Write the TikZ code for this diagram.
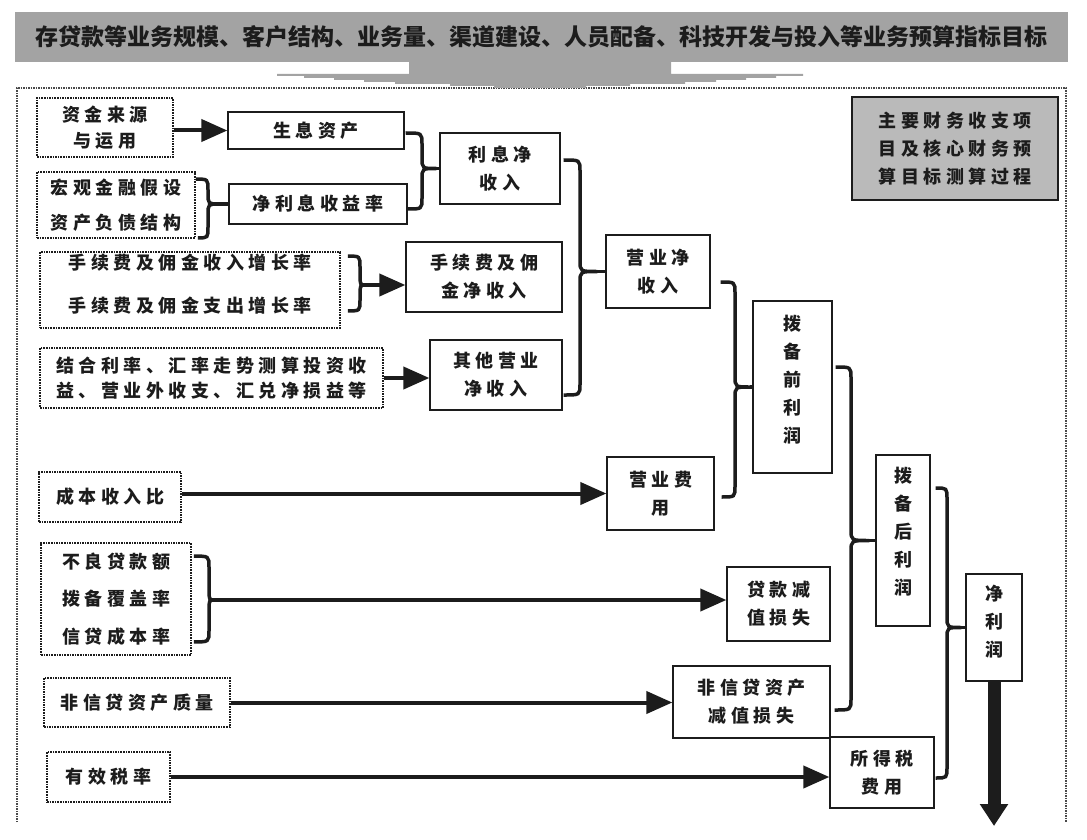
\documentclass[tikz,border=0pt]{standalone}
\usepackage{fontspec}
\newfontfamily\cjk[LetterSpace=25]{Noto Sans CJK SC}
\newfontfamily\cjkb{Noto Sans CJK SC}
\usetikzlibrary{arrows.meta,calc}
\definecolor{bannergray}{RGB}{163,163,163}
\definecolor{legendgray}{RGB}{186,186,186}
\definecolor{ink}{RGB}{28,28,28}
\newcommand\mybrace[4]{%
  \draw[bl] let \p1=(#1), \p2=(#2), \p3=(#4) in
    (\p1) .. controls (#3,\y1) .. (#3,\y1-11pt)
    -- (#3,\y3+11pt) .. controls (#3,\y3) .. (\p3)
    .. controls (#3,\y3) .. (#3,\y3-11pt)
    -- (#3,\y2+11pt) .. controls (#3,\y2) .. (\p2);
}
\begin{document}
\begin{tikzpicture}[x=1pt,y=-1pt,
  sbox/.style={draw=ink, line width=1.3pt, fill=white, inner sep=0pt, align=center, text=ink,
    font=\cjk\bfseries\fontsize{18}{28}\selectfont},
  dbox/.style={sbox, dash pattern=on 1.6pt off 1pt, line width=1.8pt},
  arr/.style={line width=4pt, draw=ink, -{Triangle[length=26pt,width=22pt]}},
  bl/.style={line width=3.5pt, draw=ink}]
\useasboundingbox (0,0) rectangle (1087,840);

% outer dotted frame (open at the bottom)
\draw[ink!80, line width=1.5pt, dash pattern=on 1.5pt off 1pt] (17,822) -- (17,88) -- (1066,88) -- (1066,822);

% banner
\node[fill=bannergray, minimum width=1053pt, minimum height=50pt, inner sep=0pt, text=ink,
  font=\cjkb\bfseries\fontsize{23}{26}\selectfont] (banner) at (541.5,37)
  {存贷款等业务规模、客户结构、业务量、渠道建设、人员配备、科技开发与投入等业务预算指标目标};
\fill[bannergray] (409,61) -- (671,61) -- (671,74) -- (803,74) -- (803,76) -- (776,76) -- (776,78)
  -- (746,78) -- (746,80) -- (716,80) -- (716,82) -- (685,82) -- (685,84) -- (630,84) -- (630,86)
  -- (586,86) -- (586,88) -- (494,88) -- (494,86) -- (450,86) -- (450,84) -- (395,84) -- (395,82)
  -- (364,82) -- (364,80) -- (334,80) -- (334,78) -- (304,78) -- (304,76) -- (277,76) -- (277,74)
  -- (409,74) -- cycle;

% legend
\node[sbox, fill=legendgray, line width=1.6pt, minimum width=206pt, minimum height=103pt] (legend) at (955,148.5)
  {主要财务收支项\\目及核心财务预\\算目标测算过程};

% left inputs
\node[dbox, minimum width=136pt, minimum height=59pt] (zjly) at (105,127.5) {资金来源\\[-2pt]与运用};
\node[dbox, minimum width=158pt, minimum height=66pt] (hgjr) at (116,205) {宏观金融假设\\[7pt]资产负债结构};
\node[dbox, minimum width=300pt, minimum height=76pt, text depth=14pt] (sxf) at (190,290) {手续费及佣金收入增长率\\[15pt]手续费及佣金支出增长率};
\node[dbox, minimum width=343pt, minimum height=60pt] (jhll) at (211.5,378) {结合利率、汇率走势测算投资收\\[-3pt]益、营业外收支、汇兑净损益等};
\node[dbox, minimum width=142pt, minimum height=50pt] (cbsrb) at (110,497) {成本收入比};
\node[dbox, minimum width=150pt, minimum height=112pt] (blsk) at (116,599) {不良贷款额\\[9.5pt]拨备覆盖率\\[9.5pt]信贷成本率};
\node[dbox, minimum width=186pt, minimum height=49pt] (fxd) at (137,702.5) {非信贷资产质量};
\node[dbox, minimum width=123pt, minimum height=50pt] (yxsl) at (108.5,777) {有效税率};

% solid boxes
\node[sbox, minimum width=176pt, minimum height=37pt] (sxzc) at (316,130.5) {生息资产};
\node[sbox, minimum width=178pt, minimum height=40pt] (jlxsyl) at (318,204) {净利息收益率};
\node[sbox, minimum width=120pt, minimum height=71pt] (lxjsr) at (500,168.5) {利息净\\收入};
\node[sbox, minimum width=156pt, minimum height=70pt] (sxfjsr) at (484,277) {手续费及佣\\金净收入};
\node[sbox, minimum width=132pt, minimum height=70pt] (qtyy) at (496,375) {其他营业\\净收入};
\node[sbox, minimum width=104pt, minimum height=73pt] (yyjsr) at (658,271.5) {营业净\\收入};
\node[sbox, minimum width=79pt, minimum height=172pt, text depth=16pt] (bbqlr) at (792.5,387) {拨\\备\\前\\利\\润};
\node[sbox, minimum width=107pt, minimum height=73pt] (yyfy) at (660.5,493.5) {营业费\\用};
\node[sbox, minimum width=103pt, minimum height=74pt] (dkjz) at (778.5,604) {贷款减\\值损失};
\node[sbox, minimum width=157pt, minimum height=72pt] (fxdjz) at (751.5,702) {非信贷资产\\减值损失};
\node[sbox, minimum width=104pt, minimum height=71pt] (sdsfy) at (882,772.5) {所得税\\费用};
\node[sbox, minimum width=54pt, minimum height=171pt, text depth=20pt] (bbhlr) at (903,540.5) {拨\\备\\后\\利\\润};
\node[sbox, minimum width=56pt, minimum height=107pt, text depth=14pt] (jlr) at (994,627.5) {净\\利\\润};

% brace end points and tips
\coordinate (b1t) at ($(hgjr.north east)+(0,8)$);
\coordinate (b1b) at ($(hgjr.south east)+(2,-1)$);
\coordinate (b1p) at ($(jlxsyl.west)+(-9,0)$);
\coordinate (b2t) at ($(sxzc.east)+(1,2.5)$);
\coordinate (b2b) at ($(jlxsyl.east)+(0,5)$);
\coordinate (b2p) at ($(lxjsr.west)+(-3,0)$);
\coordinate (b3t) at ($(lxjsr.east)+(3,-8.5)$);
\coordinate (b3b) at ($(qtyy.east)+(1,20)$);
\coordinate (b3p) at ($(yyjsr.west)+(-8,0)$);
\coordinate (b4t) at ($(yyjsr.east)+(10,10.5)$);
\coordinate (b4b) at ($(yyfy.east)+(7,3.5)$);
\coordinate (b4p) at ($(bbqlr.west)+(-2,0)$);
\coordinate (b5t) at ($(bbqlr.east)+(3,-20)$);
\coordinate (b5b) at ($(fxdjz.east)+(4,8)$);
\coordinate (b5p) at ($(bbhlr.west)+(-6,0)$);
\coordinate (b6t) at ($(bbhlr.east)+(5,-52.5)$);
\coordinate (b6b) at ($(sdsfy.east)+(1,5.5)$);
\coordinate (b6p) at ($(jlr.west)+(-4,0)$);
\coordinate (b7t) at ($(sxf.north east)+(7,5)$);
\coordinate (b7b) at ($(sxf.south east)+(7,-18)$);
\coordinate (b7p) at ($(sxf.east)+(25,-5)$);
\coordinate (b8t) at ($(blsk.north east)+(2,14)$);
\coordinate (b8b) at ($(blsk.south east)+(2,-14)$);
\coordinate (b8p) at ($(blsk.east)+(23,1)$);

\mybrace{b1t}{b1b}{208pt}{b1p}
\draw[bl] (b1p) -- (jlxsyl.west);
\mybrace{b2t}{b2b}{422pt}{b2p}
\draw[bl] (b2p) -- (lxjsr.west);
\mybrace{b3t}{b3b}{580pt}{b3p}
\draw[bl] (b3p) -- (yyjsr.west);
\mybrace{b4t}{b4b}{735pt}{b4p}
\draw[bl] (b4p) -- (bbqlr.west);
\mybrace{b5t}{b5b}{851pt}{b5p}
\draw[bl] (b5p) -- (bbhlr.west);
\mybrace{b6t}{b6b}{947pt}{b6p}
\draw[bl] (b6p) -- (jlr.west);
\mybrace{b7t}{b7b}{360pt}{b7p}
\draw[arr] (b7p) -- (b7p -| sxfjsr.west);
\mybrace{b8t}{b8b}{209pt}{b8p}
\draw[arr] (b8p) -- (b8p -| dkjz.west);

% straight arrows
\draw[arr] (zjly.east |- sxzc.west) -- (sxzc.west);
\draw[arr] (jhll.east) -- (jhll.east -| qtyy.west);
\draw[arr] (cbsrb.east |- yyfy.west) -- (yyfy.west);
\draw[arr] (fxd.east) -- (fxd.east -| fxdjz.west);
\draw[arr] (yxsl.east) -- (yxsl.east -| sdsfy.west);

% big output arrow
\coordinate (bigend) at (994,826);
\draw[line width=13pt, draw=ink, -{Triangle[length=22pt,width=27pt]}] (jlr.south) -- (bigend);
\end{tikzpicture}
\end{document}
